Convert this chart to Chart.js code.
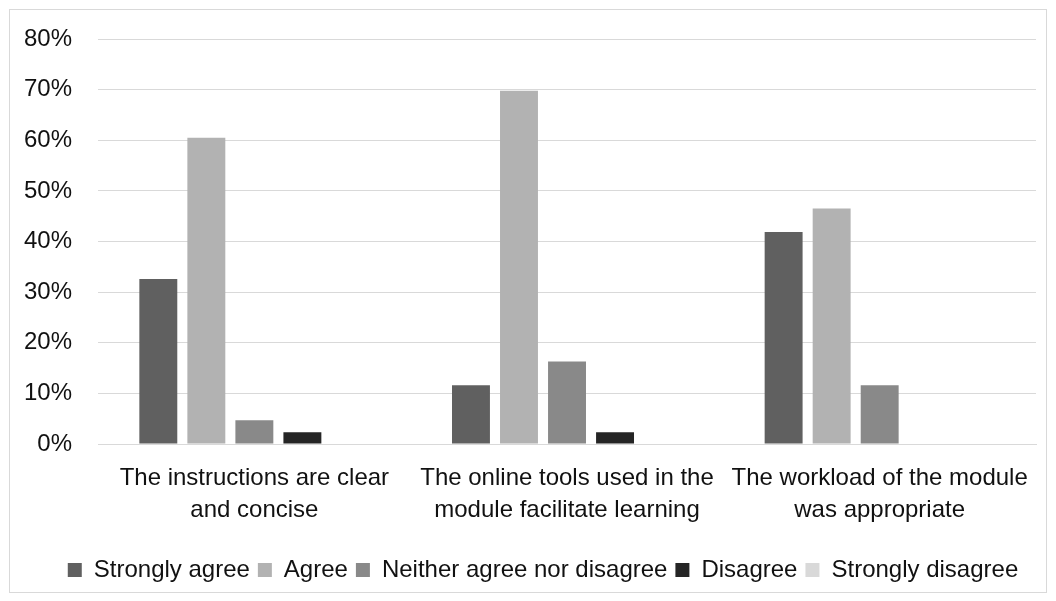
<!DOCTYPE html>
<html>
<head>
<meta charset="utf-8">
<script src="https://cdn.jsdelivr.net/npm/chart.js@4.4.1/dist/chart.umd.min.js"></script>
<style>
  html, body { margin: 0; padding: 0; background: #ffffff; }
  #frame {
    position: absolute;
    left: 9px; top: 9px;
    width: 1036px; height: 582px;
    border: 1px solid #d9d9d9;
  }
</style>
</head>
<body>
<div id="frame"><canvas id="surveyChart"></canvas></div>
<script>
  // Survey statements (x axis), split into the two lines shown under each group
  const categories = [
    ["The instructions are clear", "and concise"],
    ["The online tools used in the", "module facilitate learning"],
    ["The workload of the module", "was appropriate"]
  ];

  // Share of answers per statement, in percent
  const stronglyAgree = [32.6, 11.6, 41.9];
  const agree = [60.5, 69.8, 46.5];
  const neither = [4.7, 16.3, 11.6];
  const disagree = [2.3, 2.3, 0];
  const stronglyDisagree = [0, 0, 0];

  const yTicks = [0, 10, 20, 30, 40, 50, 60, 70, 80];

  const fontFamily = "'Liberation Sans', Arial, sans-serif";
  const textColor = "#111111";
  const gridColor = "#d9d9d9";

  const series = [
    { label: "Strongly agree", data: stronglyAgree, color: "#606060" },
    { label: "Agree", data: agree, color: "#b2b2b2" },
    { label: "Neither agree nor disagree", data: neither, color: "#898989" },
    { label: "Disagree", data: disagree, color: "#252525" },
    { label: "Strongly disagree", data: stronglyDisagree, color: "#d9d9d9" }
  ];

  // legend row sits a little right of the chart's centre, as in the original
  const legendNudge = {
    id: "legendNudge",
    afterLayout(chart) {
      chart.legend.left += 26;
    }
  };

  const ctx = document.getElementById("surveyChart").getContext("2d");

  new Chart(ctx, {
    type: "bar",
    data: {
      labels: categories,
      datasets: series.map(s => ({
        label: s.label,
        data: s.data,
        backgroundColor: s.color,
        borderWidth: 0,
        categoryPercentage: 0.768,
        barPercentage: 0.79
      }))
    },
    plugins: [legendNudge],
    options: {
      responsive: true,
      maintainAspectRatio: false,
      animation: false,
      layout: {
        padding: { left: 14, right: 10, top: 0, bottom: 0 }
      },
      plugins: {
        tooltip: { enabled: false },
        legend: {
          position: "bottom",
          labels: {
            color: textColor,
            boxWidth: 14,
            boxHeight: 14,
            padding: 8,
            font: { family: fontFamily, size: 24 }
          }
        }
      },
      scales: {
        x: {
          grid: { display: false, drawTicks: false },
          border: { display: true, color: gridColor, width: 1 },
          ticks: {
            color: textColor,
            padding: 18,
            maxRotation: 0,
            autoSkip: false,
            font: { family: fontFamily, size: 24, lineHeight: 1.333 }
          },
          afterFit: axis => {
            axis.paddingLeft = 0;
            axis.paddingRight = 0;
          },
          // blank title only keeps a small gap between the labels and the legend
          title: {
            display: true,
            text: "",
            padding: 0,
            font: { size: 6, lineHeight: 1 }
          }
        },
        y: {
          min: 0,
          max: 80,
          afterBuildTicks: axis => {
            axis.ticks = yTicks.map(v => ({ value: v }));
          },
          afterFit: axis => {
            // Chart.js reserves the tick padding on both sides; keep only the inner gap
            axis.width -= 26;
            axis.paddingTop = 29;
          },
          grid: { color: gridColor, lineWidth: 1, drawTicks: false },
          border: { display: false },
          ticks: {
            color: textColor,
            padding: 26,
            font: { family: fontFamily, size: 24 },
            callback: v => v + "%"
          }
        }
      }
    }
  });
</script>
</body>
</html>
